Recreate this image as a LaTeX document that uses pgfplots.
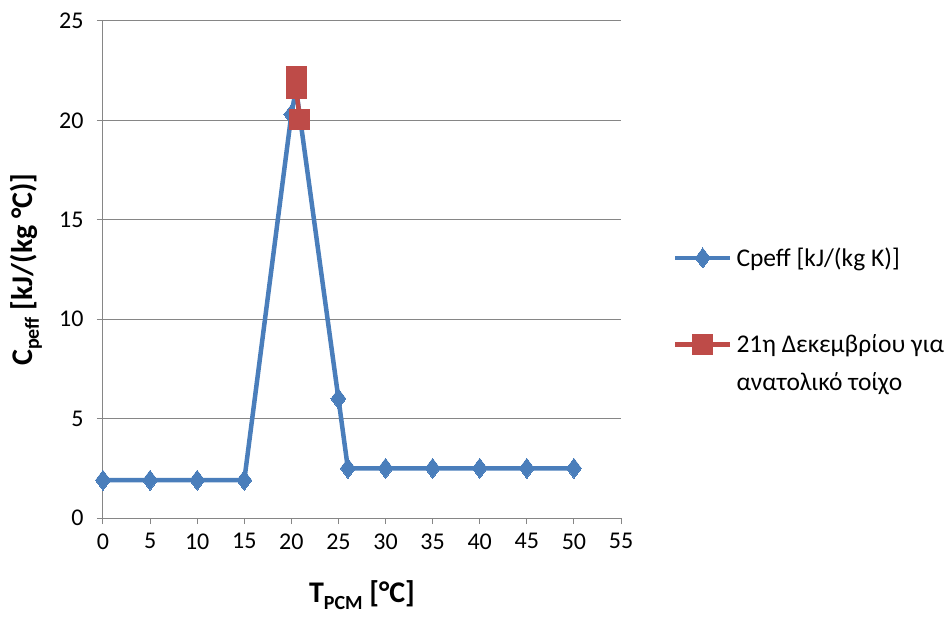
\documentclass[border=0pt]{standalone}
\usepackage{pgfplots}
\pgfplotsset{compat=1.18}
\usepackage{fontspec}
\setmainfont{Carlito}
\definecolor{cblue}{HTML}{4A7EBB}
\definecolor{cred}{HTML}{BE4B48}
\definecolor{cgrid}{HTML}{868686}
\newcommand{\sub}[1]{\raisebox{-0.22em}{\fontsize{20}{20}\selectfont #1}}
\begin{document}
\begin{tikzpicture}[x=1pt,y=1pt]
\begin{axis}[
  scale only axis,
  width=518pt, height=497pt,
  xmin=0, xmax=55, ymin=0, ymax=25,
  xtick={0,5,...,55}, ytick={0,5,...,25},
  axis x line=bottom, axis y line=left,
  axis line style={cgrid, line width=1pt, -},
  x axis line style={-}, y axis line style={-},
  tick style={cgrid, line width=1pt},
  tick align=outside,
  major tick length=6pt,
  ymajorgrids, grid style={cgrid, line width=1pt},
  /pgf/number format/assume math mode=true,
  ticklabel style={font=\fontsize{24}{28}\selectfont, black},
  xticklabel style={yshift=-6pt},
  yticklabel style={xshift=-10pt},
  xlabel={\textbf{T\sub{PCM} [°C]}},
  ylabel={\textbf{C\sub{peff} [kJ/(kg °C)]}},
  label style={font=\fontsize{30}{34}\selectfont},
  xlabel style={at={(axis description cs:0.5,-0.155)}, anchor=center},
  ylabel style={at={(axis description cs:-0.1486,0.5)}, anchor=center},
  clip=false,
  legend style={draw=none, fill=none, inner sep=0pt, at={(axis description cs:1.1,0.548)}, anchor=north west,
    font=\fontsize{25.5}{30}\selectfont, row sep=63pt, column sep=2pt, cells={anchor=west}},
  legend cell align=left,
  legend image code/.code={\draw[#1, mark repeat=2, mark phase=2] plot coordinates {(0pt,0pt) (27.5pt,0pt) (55pt,0pt)};},
]
\addplot[cblue, line width=4.5pt, mark=diamond*, mark size=10pt, mark options={line width=0pt, fill=cblue}]
  coordinates {(0,1.9) (5,1.9) (10,1.9) (15,1.9) (20,20.3) (20.5,21.6) (25,6) (26,2.5) (30,2.5) (35,2.5) (40,2.5) (45,2.5) (50,2.5)};
\addlegendentry{Cpeff [kJ/(kg K)]}
\addplot[cred, line width=4.5pt, mark=square*, mark size=10pt, mark options={line width=0pt, fill=cred}]
  coordinates {(20.5,22.2) (20.5,21.6) (20.9,20.05)};
\addlegendentry{\smash{\rlap{\raisebox{-38pt}{ανατολικό τοίχο}}}21η Δεκεμβρίου για}
\end{axis}
\useasboundingbox (-103,-98) rectangle (849,518);
\end{tikzpicture}
\end{document}
